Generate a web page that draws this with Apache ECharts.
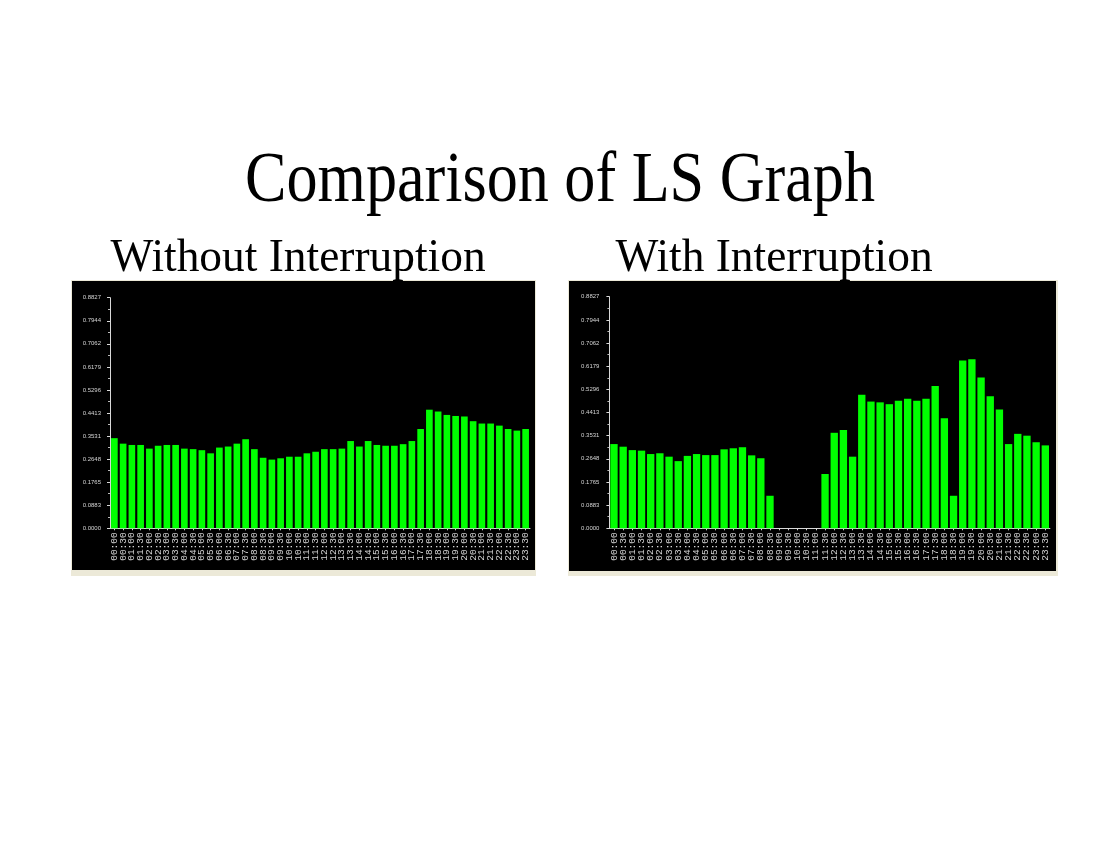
<!DOCTYPE html>
<html>
<head>
<meta charset="utf-8">
<title>Comparison of LS Graph</title>
<script src="https://cdn.jsdelivr.net/npm/echarts@6/dist/echarts.min.js"></script>
<style>
  html, body { margin: 0; padding: 0; background: #fff; }
  #chart { width: 1113px; height: 856px; }
</style>
</head>
<body>
<div id="chart"></div>
<script>
  // half-hour slots, 00:00 .. 23:30
  const timeSlots = [
    '00:00','00:30','01:00','01:30','02:00','02:30','03:00','03:30',
    '04:00','04:30','05:00','05:30','06:00','06:30','07:00','07:30',
    '08:00','08:30','09:00','09:30','10:00','10:30','11:00','11:30',
    '12:00','12:30','13:00','13:30','14:00','14:30','15:00','15:30',
    '16:00','16:30','17:00','17:30','18:00','18:30','19:00','19:30',
    '20:00','20:30','21:00','21:30','22:00','22:30','23:00','23:30'
  ]
  const yTickLabels = ['0.0000','0.0883','0.1765','0.2648','0.3531','0.4413','0.5296','0.6179','0.7062','0.7944','0.8827']
  const yStep = 0.08827
  const yMax = 0.8827

  // 不中断
  const withoutValues = [
    0.345, 0.324, 0.319, 0.319, 0.305, 0.316, 0.319, 0.319,
    0.305, 0.303, 0.299, 0.287, 0.309, 0.313, 0.324, 0.341,
    0.303, 0.270, 0.263, 0.268, 0.274, 0.274, 0.287, 0.293,
    0.303, 0.303, 0.305, 0.334, 0.313, 0.334, 0.319, 0.316,
    0.316, 0.322, 0.334, 0.380, 0.454, 0.447, 0.434, 0.430,
    0.428, 0.410, 0.401, 0.401, 0.393, 0.380, 0.374, 0.380
  ]
  // 中断 (09:00 - 11:00 no data)
  const withValues = [
    0.321, 0.311, 0.298, 0.296, 0.283, 0.286, 0.273, 0.256,
    0.276, 0.283, 0.279, 0.279, 0.301, 0.305, 0.309, 0.278,
    0.267, 0.124, '-', '-', '-', '-', '-', 0.207,
    0.364, 0.375, 0.273, 0.509, 0.483, 0.480, 0.473, 0.486,
    0.494, 0.486, 0.494, 0.542, 0.419, 0.124, 0.640, 0.644,
    0.575, 0.503, 0.453, 0.321, 0.360, 0.353, 0.328, 0.316
  ]

  const chart = echarts.init(document.getElementById('chart'))

  function xAxisFor(gridIndex) {
    return {
      type: 'category',
      gridIndex: gridIndex,
      data: timeSlots,
      axisLine: { lineStyle: { color: '#d8d8d8', width: 1 } },
      axisTick: { show: true, length: 2, alignWithLabel: true, lineStyle: { color: '#d8d8d8' } },
      axisLabel: {
        interval: 0,
        rotate: 90,
        margin: 4,
        fontSize: 9.5,
        fontFamily: 'Liberation Mono',
        color: '#d4d4d4'
      }
    }
  }

  function yAxisFor(gridIndex, margin) {
    return {
      type: 'value',
      gridIndex: gridIndex,
      min: 0,
      max: yMax,
      interval: yStep,
      splitLine: { show: false },
      axisLine: { show: true, lineStyle: { color: '#d8d8d8', width: 1 } },
      axisTick: { show: true, length: 3, lineStyle: { color: '#d8d8d8' } },
      minorTick: { show: true, splitNumber: 2, length: 2, lineStyle: { color: '#bbbbbb' } },
      axisLabel: {
        margin: margin,
        fontSize: 6,
        fontFamily: 'Liberation Sans',
        color: '#d4d4d4',
        formatter: function (v) { return yTickLabels[Math.round(v / yStep)] }
      }
    }
  }

  const option = {
    backgroundColor: '#ffffff',
    animation: false,
    graphic: [
      // panel frames
      { type: 'rect', z: -10, shape: { x: 71, y: 280, width: 465, height: 296 }, style: { fill: '#ece9d8' } },
      { type: 'rect', z: -9, shape: { x: 72, y: 281, width: 463, height: 289 }, style: { fill: '#000000' } },
      { type: 'rect', z: -10, shape: { x: 568, y: 280, width: 490, height: 296 }, style: { fill: '#ece9d8' } },
      { type: 'rect', z: -9, shape: { x: 569, y: 281, width: 487, height: 290 }, style: { fill: '#000000' } },
      // headings
      {
        type: 'text', x: 560, y: 182, scaleX: 0.863,
        style: { text: 'Comparison of LS Graph', font: '72px "Liberation Serif"', fill: '#000', align: 'center', verticalAlign: 'middle' }
      },
      {
        type: 'text', x: 298, y: 259, scaleX: 0.966,
        style: { text: 'Without Interruption', font: '47px "Liberation Serif"', fill: '#000', align: 'center', verticalAlign: 'middle' }
      },
      {
        type: 'text', x: 774, y: 259, scaleX: 0.966,
        style: { text: 'With Interruption', font: '47px "Liberation Serif"', fill: '#000', align: 'center', verticalAlign: 'middle' }
      }
    ],
    grid: [
      { left: 110, top: 297.7, width: 420, height: 230.6 },
      { left: 609.4, top: 296.7, width: 440.5, height: 231.6 }
    ],
    xAxis: [xAxisFor(0), xAxisFor(1)],
    yAxis: [yAxisFor(0, 9), yAxisFor(1, 10)],
    series: [
      {
        name: 'Without Interruption',
        type: 'bar',
        xAxisIndex: 0,
        yAxisIndex: 0,
        data: withoutValues,
        barWidth: '76%',
        itemStyle: { color: '#00ff00' }
      },
      {
        name: 'With Interruption',
        type: 'bar',
        xAxisIndex: 1,
        yAxisIndex: 1,
        data: withValues,
        barWidth: '80%',
        itemStyle: { color: '#00ff00' }
      }
    ]
  }
  chart.setOption(option)
</script>
</body>
</html>
